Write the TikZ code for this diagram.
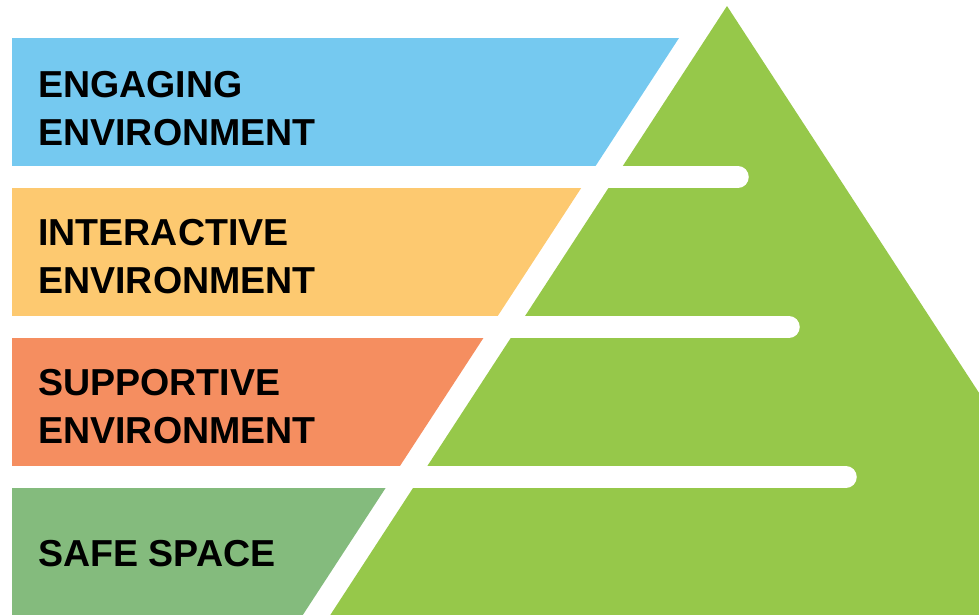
\documentclass[tikz,border=0pt]{standalone}
\usepackage{fontspec}
\setmainfont{Liberation Sans}
\definecolor{engagecol}{RGB}{117,201,240}
\definecolor{interactcol}{RGB}{253,201,112}
\definecolor{supportcol}{RGB}{245,142,96}
\definecolor{safecol}{RGB}{132,187,125}
\definecolor{pyramidcol}{RGB}{150,200,74}
\begin{document}
\begin{tikzpicture}[
        x=0.025cm, y=-0.025cm,
        layer/.style={fill=#1},
        levelname/.style={anchor=base west, inner sep=0pt, align=left,
            font=\fontsize{26.7}{33.8}\selectfont\bfseries},
        divider/.style={draw=white, line width=15.3pt, line cap=round}
    ]
        \useasboundingbox (0,0) rectangle (979,614);
        \clip (0,0) rectangle (979,614);
        % Pyramid behind the layers
        \fill[pyramidcol] (727,6) -- (1183,706) -- (271,706) -- cycle;
        \foreach \top/\bot/\col/\base/\name/\txt in {
            38/166/engagecol/145/engaging/{ENGAGING\\ENVIRONMENT},
            188/316/interactcol/293/interactive/{INTERACTIVE\\ENVIRONMENT},
            338/466/supportcol/443/supportive/{SUPPORTIVE\\ENVIRONMENT},
            488/620/safecol/566/safe/{SAFE SPACE}
        } {
            \fill[layer=\col] (12,\top) -- ({679-0.652*(\top-38)},\top)
                -- ({679-0.652*(\bot-38)},\bot) -- (12,\bot) -- cycle;
            \node[levelname] (\name) at (38,\base) {\txt};
        }
        \foreach \y/\xend in {177/738, 327/789, 477/846} {
            \draw[divider] (-20,\y) -- (\xend,\y);
        }
    \end{tikzpicture}
\end{document}
